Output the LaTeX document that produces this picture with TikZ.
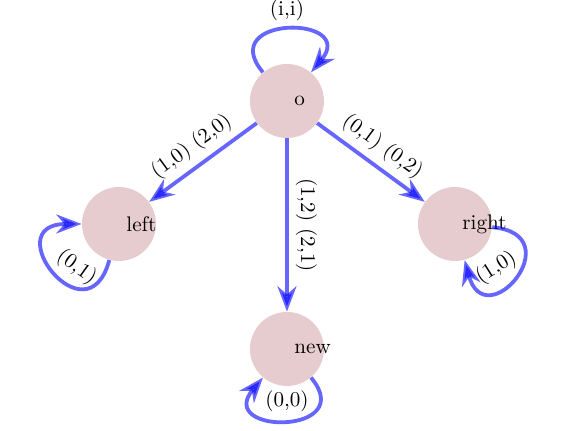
\documentclass[tikz,border=0pt]{standalone}
\usepackage{tikz}
\usetikzlibrary{arrows.meta, positioning}
\definecolor{statefill}{RGB}{230,204,206}

\begin{document}
\begin{tikzpicture}[
    node distance=2.05cm and 2.8cm, on grid,
    state/.style={circle, fill=statefill, minimum size=1.233cm, inner sep=0pt},
    tag/.style={anchor=west},
    trans/.style={->, >={Stealth[length=12pt, width=9pt]}, line width=1.8pt, draw=blue, opacity=0.6, text opacity=1},
    lbl/.style={sloped, above}
]
\useasboundingbox (0,0) rectangle (9.6,-7.183);

% --- states ---
\node[state] (o) at (4.783,-1.683) {};
\node[state, below left=of o]   (left)  {};
\node[state, below right=of o]  (right) {};
\node[state, below=4.133cm of o] (new)  {};

% --- state names ---
\node[tag] (o-name)     at (o.center)     {o};
\node[tag] (left-name)  at (left.center)  {left};
\node[tag] (right-name) at (right.center) {right};
\node[tag] (new-name)   at (new.center)   {new};

% --- transitions ---
\draw[trans] (o) -- node[lbl]{(1,0) (2,0)} (left);
\draw[trans] (o) -- node[lbl]{(1,2) (2,1)} (new);
\draw[trans] (o) -- node[lbl]{(0,1) (0,2)} (right);

% --- self loops ---
\draw[trans] (o)     to[out=130, in=50, looseness=4]     node[lbl]{(i,i)} (o);
\draw[trans] (left)  to[out=-105, in=180, looseness=4.8] node[lbl, pos=0.4]{(0,1)} (left);
\draw[trans] (right) to[out=-5, in=-75, looseness=4.8]   node[lbl, pos=0.6]{(1,0)} (right);
\draw[trans] (new)   to[out=-50, in=-130, looseness=4]   node[lbl]{(0,0)} (new);
\end{tikzpicture}
\end{document}
